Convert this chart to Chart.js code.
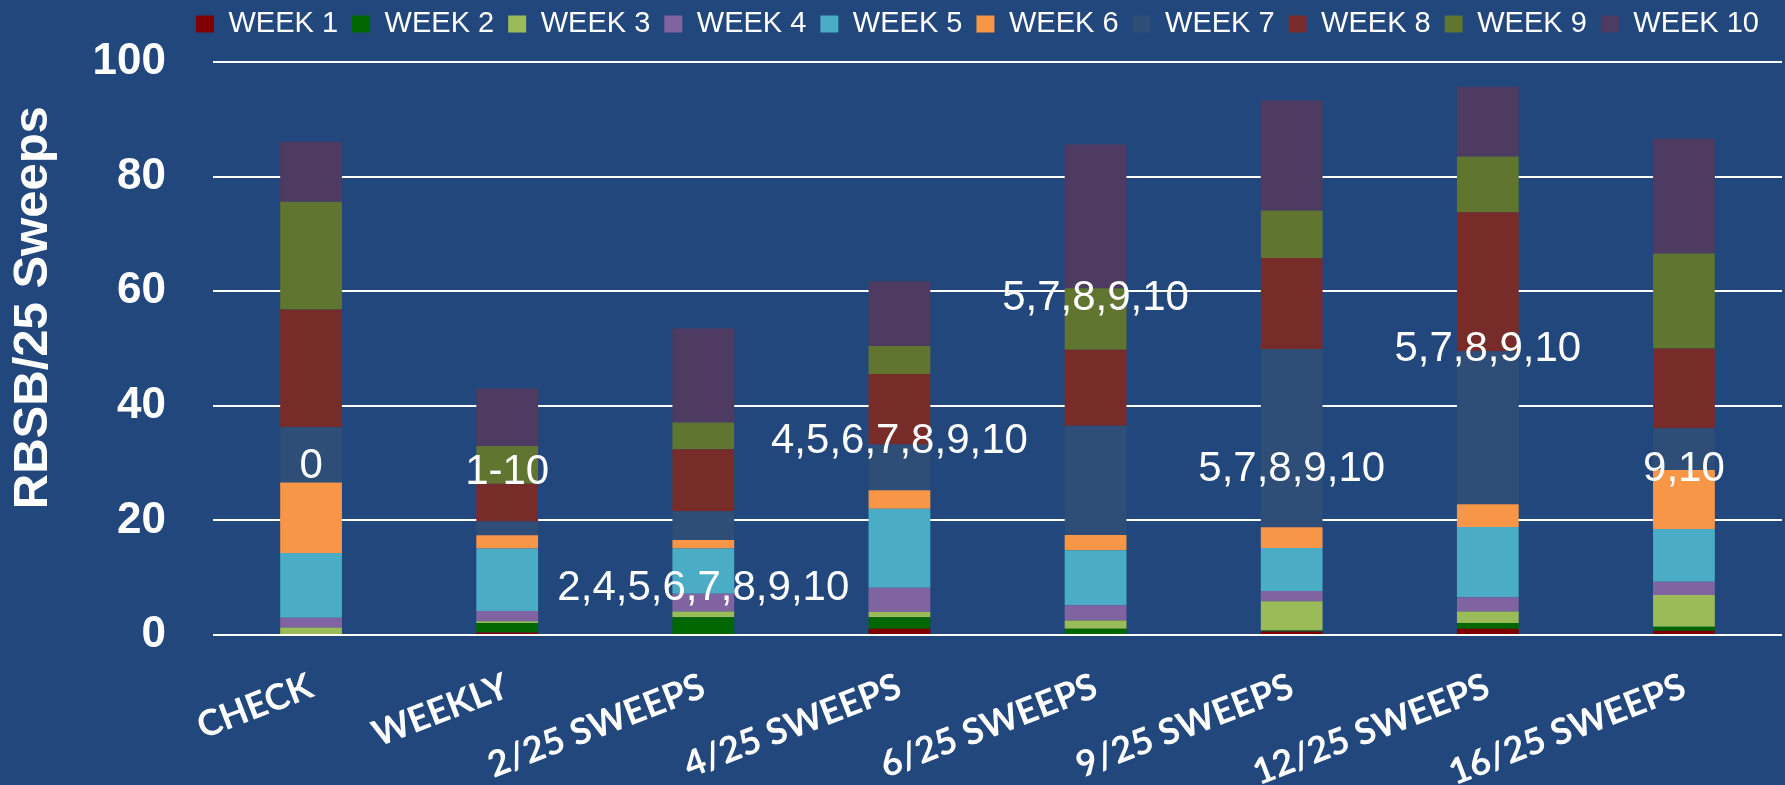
<!DOCTYPE html>
<html>
<head>
<meta charset="utf-8">
<script src="https://cdn.jsdelivr.net/npm/chart.js@4.4.1/dist/chart.umd.min.js"></script>
<style>
html, body { margin: 0; padding: 0; background: #22477c; }
#wrap { width: 1785px; height: 785px; }
</style>
</head>
<body>
<div id="wrap"><canvas id="chart"></canvas></div>
<script>
// categories on the x axis
const categories = ["CHECK", "WEEKLY", "2/25 SWEEPS", "4/25 SWEEPS", "6/25 SWEEPS", "9/25 SWEEPS", "12/25 SWEEPS", "16/25 SWEEPS"];

// RBSB per 25 sweeps, one array per week (stacked bottom to top)
const week1  = [0,    0.45, 0,    1.1,  0,    0.6,  1.1,  0.75];
const week2  = [0,    1.65, 3.1,  2.0,  1.1,  0.2,  1.0,  0.7];
const week3  = [1.3,  0.3,  1.0,  0.9,  1.45, 5.1,  2.0,  5.55];
const week4  = [1.7,  1.8,  3.1,  4.25, 2.65, 1.8,  2.5,  2.3];
const week5  = [11.3, 10.9, 7.9,  13.8, 9.6,  7.5,  12.25, 9.2];
const week6  = [12.3, 2.3,  1.5,  3.2,  2.65, 3.6,  3.95, 10.3];
const week7  = [9.7,  2.4,  5.0,  8.0,  19.05, 31.1, 26.7, 7.3];
const week8  = [20.5, 6.6,  10.8, 12.3, 13.3, 15.9, 24.3, 13.9];
const week9  = [18.8, 6.6,  4.7,  4.9,  10.7, 8.3,  9.7,  16.6];
const week10 = [10.5, 10.0, 16.4, 11.3, 25.1, 19.2, 12.2, 20.0];

const weekNames = ["WEEK 1", "WEEK 2", "WEEK 3", "WEEK 4", "WEEK 5", "WEEK 6", "WEEK 7", "WEEK 8", "WEEK 9", "WEEK 10"];
const weekColors = ["#800000", "#006600", "#9bbb59", "#8064a2", "#4bacc6", "#f79646", "#2e4e77", "#772c2a", "#5f7530", "#4d3b61"];

// text notes over each bar and the level they sit at
const sweepLabels = ["0", "1-10", "2,4,5,6,7,8,9,10", "4,5,6,7,8,9,10", "5,7,8,9,10", "5,7,8,9,10", "5,7,8,9,10", "9,10"];
const labelLevel = [29.4, 28.4, 8.1, 33.7, 58.8, 28.9, 49.8, 28.9];

// y axis ticks
const yTicks = [0, 20, 40, 60, 80, 100];

const weeks = [week1, week2, week3, week4, week5, week6, week7, week8, week9, week10];

const datasets = weeks.map(function (vals, i) {
    return {
        label: weekNames[i],
        data: vals,
        backgroundColor: weekColors[i],
        borderWidth: 0
    };
});

// move the legend to where the original sits
const legendPlace = {
    id: "legendPlace",
    afterLayout(chart) {
        chart.legend.left = 182;
        chart.legend.right = 1800;
        chart.legend.top = -4.5;
    }
};

const noteLabels = {
    id: "noteLabels",
    afterDatasetsDraw(chart) {
        const ctx = chart.ctx;
        const x = chart.scales.x, y = chart.scales.y;
        ctx.save();
        ctx.font = '42px "Liberation Sans", Arial, sans-serif';
        ctx.fillStyle = "#ffffff";
        ctx.textAlign = "center";
        ctx.textBaseline = "middle";
        sweepLabels.forEach(function (t, i) {
            ctx.fillText(t, x.getPixelForValue(i), y.getPixelForValue(labelLevel[i]));
        });
        ctx.restore();
    }
};

new Chart(document.getElementById("chart"), {
    type: "bar",
    data: { labels: categories, datasets: datasets },
    plugins: [legendPlace, noteLabels],
    options: {
        responsive: true,
        maintainAspectRatio: false,
        animation: false,
        layout: { padding: { top: 9, right: 3, left: 0, bottom: 0 } },
        datasets: { bar: { barPercentage: 0.315, categoryPercentage: 1.0 } },
        plugins: {
            legend: {
                position: "top",
                align: "start",
                labels: {
                    color: "#ffffff",
                    boxWidth: 18,
                    boxHeight: 17,
                    padding: 14,
                    font: { family: '"Liberation Sans", Arial, sans-serif', size: 29 }
                }
            },
            tooltip: { enabled: false }
        },
        scales: {
            x: {
                stacked: true,
                grid: { display: false, drawTicks: false },
                border: { display: false },
                afterFit: function (s) { s.height = 150; },
                ticks: {
                    color: "#ffffff",
                    autoSkip: false,
                    minRotation: 21,
                    maxRotation: 21,
                    padding: 30,
                    font: { family: 'Lato, "Open Sans", sans-serif', size: 36, weight: "bold" }
                }
            },
            y: {
                stacked: true,
                min: 0,
                max: 100,
                afterFit: function (s) { s.width = 213; },
                afterBuildTicks: function (s) { s.ticks = yTicks.map(function (v) { return { value: v }; }); },
                grid: { color: "#ffffff", lineWidth: 2, drawTicks: true, tickLength: 47, tickColor: "rgba(0,0,0,0)" },
                border: { display: false },
                ticks: {
                    color: "#ffffff",
                    padding: 0,
                    font: { family: '"Liberation Sans", Arial, sans-serif', size: 44, weight: "bold" }
                },
                title: {
                    display: true,
                    text: "      RBSB/25 Sweeps",
                    color: "#ffffff",
                    padding: { top: 4, bottom: 0 },
                    font: { family: '"Liberation Sans", Arial, sans-serif', size: 49, weight: "bold" }
                }
            }
        }
    }
});
</script>
</body>
</html>
